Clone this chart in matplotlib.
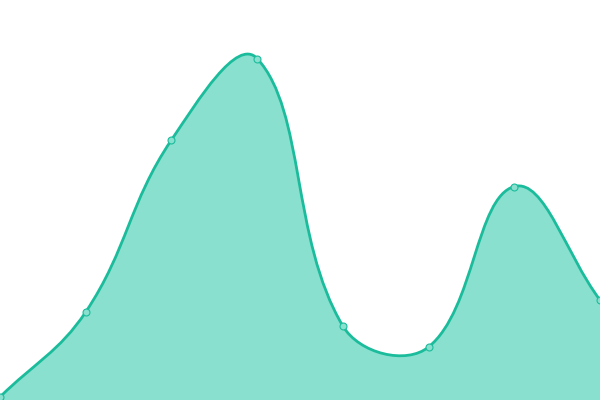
import matplotlib
matplotlib.use("Agg")
import matplotlib.pyplot as plt
import numpy as np
from matplotlib.path import Path
from matplotlib.patches import PathPatch

# values (pixel-like units, 0 = bottom edge)
categories = ["A", "B", "C", "D", "E", "F", "G", "H"]
values = [3, 88, 260, 341.5, 74, 53, 213.5, 100]

LINE = "#1abc9c"
FILL = "#8ae0cf"
SMOOTH = 0.4


def smooth_path(px, py):
    """Bezier path through the points, echarts-like smoothing (pixel space)."""
    n = len(px)
    cp_in = []
    cp_out = []
    for i in range(n):
        x, y = px[i], py[i]
        prev_x, prev_y = (px[i - 1], py[i - 1]) if i > 0 else (x, y)
        next_x, next_y = (px[i + 1], py[i + 1]) if i < n - 1 else (x, y)
        vx, vy = next_x - prev_x, next_y - prev_y
        len_prev = np.hypot(x - prev_x, y - prev_y)
        len_next = np.hypot(next_x - x, next_y - y)
        ratio = len_next / (len_prev + len_next) if len_prev + len_next else 0.5
        cp_out.append((x + vx * SMOOTH * ratio, y + vy * SMOOTH * ratio))
        cp_in.append((x - vx * SMOOTH * (1 - ratio), y - vy * SMOOTH * (1 - ratio)))
    verts = [(px[0], py[0])]
    codes = [Path.MOVETO]
    for i in range(n - 1):
        verts += [cp_out[i], cp_in[i + 1], (px[i + 1], py[i + 1])]
        codes += [Path.CURVE4] * 3
    return verts, codes


fig = plt.figure(figsize=(6, 4), dpi=100)
ax = fig.add_axes([0, 0, 1, 1])
ax.set_xlim(0, len(categories) - 1)
ax.set_ylim(0, 400)
ax.axis("off")

xs = np.arange(len(categories))
pts = ax.transData.transform(np.column_stack([xs, values]))
verts, codes = smooth_path(pts[:, 0], pts[:, 1])
inv = ax.transData.inverted()
data_verts = [tuple(v) for v in inv.transform(np.array(verts))]

line_path = Path(data_verts, codes)
fill_verts = data_verts + [(xs[-1], 0), (xs[0], 0), data_verts[0]]
fill_codes = codes + [Path.LINETO, Path.LINETO, Path.CLOSEPOLY]
ax.add_patch(PathPatch(Path(fill_verts, fill_codes), facecolor=FILL, edgecolor="none"))
ax.add_patch(PathPatch(line_path, facecolor="none", edgecolor=LINE, linewidth=2.0))
ax.plot(xs, values, linestyle="none", marker="o", markersize=5,
        markerfacecolor=FILL, markeredgecolor=LINE, markeredgewidth=0.8, clip_on=False)

fig.savefig("out.png", dpi=100)
